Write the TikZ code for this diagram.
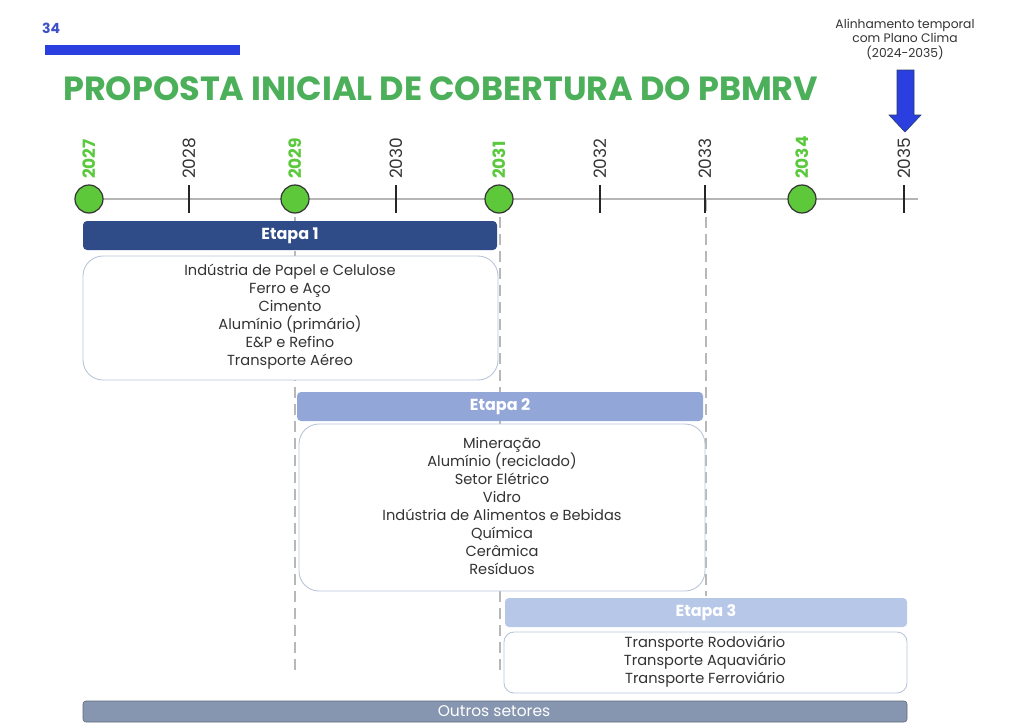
\documentclass[tikz,border=0pt]{standalone}
\usepackage{fontspec}
\setmainfont{Poppins}
\definecolor{tgreen}{HTML}{4CAF5A}
\definecolor{ygreen}{HTML}{5BC93D}
\definecolor{cgreen}{HTML}{5DC83A}
\definecolor{pblue}{HTML}{3D50C8}
\definecolor{bblue}{HTML}{2B3FE0}
\definecolor{eone}{HTML}{2F4B88}
\definecolor{etwo}{HTML}{92A7D8}
\definecolor{ethree}{HTML}{B6C7E7}
\definecolor{outros}{HTML}{8796B0}
\definecolor{boxline}{HTML}{B9C5DA}
\definecolor{axisgray}{HTML}{B5B5B5}
\definecolor{dashgray}{HTML}{B8B8B8}
\definecolor{txt}{HTML}{333333}
\tikzset{
  milestone/.style={circle,draw=black!80,line width=1.2pt,fill=cgreen,minimum size=28pt,inner sep=0pt},
  yearlab/.style={rotate=90,anchor=west,font=\fontsize{17}{17}\selectfont,text=txt,inner sep=0pt},
  greenyear/.style={yearlab,text=ygreen,font=\fontsize{17}{17}\selectfont\bfseries},
  etapabar/.style={rounded corners=4pt},
  etapatxt/.style={text=white,font=\fontsize{16}{16}\selectfont\bfseries,inner sep=0pt},
  listbox/.style={draw=boxline,line width=0.9pt,rounded corners=20pt,fill=white},
  listtxt/.style={align=center,text=txt,font=\fontsize{14.6}{18}\selectfont,inner sep=0pt},
  guide/.style={draw=dashgray,line width=1.4pt,dash pattern=on 11pt off 6pt},
}
\begin{document}
\begin{tikzpicture}[x=1pt,y=-1pt]
\useasboundingbox (0,0) rectangle (1024,725);
% header
\node[anchor=west,text=pblue,font=\fontsize{14}{14}\selectfont\bfseries,inner sep=0pt] (pnum) at (42,28) {34};
\fill[bblue] (45,45) rectangle (240,55);
\node[anchor=west,text=tgreen,font=\fontsize{33.5}{33.5}\selectfont\bfseries,inner sep=0pt] (title) at (63,89) {PROPOSTA INICIAL DE COBERTURA DO PBMRV};
% annotation
\node[align=center,text=txt,font=\fontsize{12.3}{14.5}\selectfont,inner sep=0pt] (note) at (905,39) {Alinhamento temporal\\com Plano Clima\\(2024-2035)};
\fill[bblue,draw=eone!80!black,line width=0.6pt] (897,70) -- (914,70) -- (914,115) -- (921,115) -- (905,132) -- (889,115) -- (897,115) -- cycle;
% guides
\coordinate (g1t) at (295,200); \coordinate (g1b) at (295,675);
\coordinate (g2t) at (500,200); \coordinate (g2b) at (500,675);
\coordinate (g3t) at (706,200); \coordinate (g3b) at (706,596);
\draw[guide] (g1t) -- (g1b);
\draw[guide] (g2t) -- (g2b);
\draw[guide] (g3t) -- (g3b);
% axis
\coordinate (axL) at (75,199); \coordinate (axR) at (918,199);
\draw[axisgray,line width=1.3pt] (axL) -- (axR);
% ticks and years
\foreach \x/\y in {189/2028,396/2030,600/2032,705/2033,904/2035}{
  \draw[black!85,line width=1.6pt] (\x,185) -- (\x,213);
  \node[yearlab] (y\y) at (\x,179) {\y};
}
\foreach \x/\y in {89/2027,295/2029,499/2031,802/2034}{
  \node[milestone] (m\y) at (\x,199) {};
  \node[greenyear] (y\y) at (\x,179) {\y};
}
% Etapa 1
\path[etapabar,fill=eone] (83,221) rectangle (497,250);
\node[etapatxt] (e1) at (290,235.5) {Etapa 1};
\draw[listbox] (83,256) rectangle (498,380);
\node[listtxt] (l1) at (290,317) {Indústria de Papel e Celulose\\Ferro e Aço\\Cimento\\Alumínio (primário)\\E\&P e Refino\\Transporte Aéreo};
% Etapa 2
\path[etapabar,fill=etwo] (297,392) rectangle (703,421);
\node[etapatxt] (e2) at (500,406.5) {Etapa 2};
\draw[listbox] (299,424) rectangle (705,591);
\node[listtxt] (l2) at (502,506) {Mineração\\Alumínio (reciclado)\\Setor Elétrico\\Vidro\\Indústria de Alimentos e Bebidas\\Química\\Cerâmica\\Resíduos};
% Etapa 3
\path[etapabar,fill=ethree] (505,598) rectangle (907,627);
\node[etapatxt] (e3) at (706,612.5) {Etapa 3};
\draw[listbox,rounded corners=10pt] (504,632) rectangle (907,693);
\node[listtxt] (l3) at (705,662) {Transporte Rodoviário\\Transporte Aquaviário\\Transporte Ferroviário};
% Outros
\path[rounded corners=3pt,fill=outros,draw=outros!70!black,line width=0.6pt] (83,701) rectangle (907,722);
\node[text=white,font=\fontsize{15.5}{15.5}\selectfont,inner sep=0pt] (outros) at (494,711.5) {Outros setores};
\end{tikzpicture}
\end{document}
